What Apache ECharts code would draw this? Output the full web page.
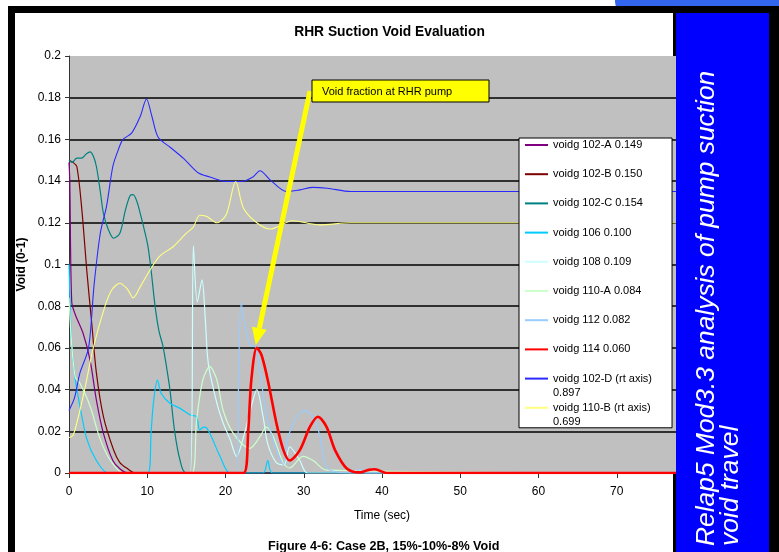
<!DOCTYPE html>
<html>
<head>
<meta charset="utf-8">
<script src="https://cdn.jsdelivr.net/npm/echarts@6/dist/echarts.min.js"></script>
<style>html,body{margin:0;padding:0;background:#fff;}#c{width:779px;height:552px;}</style>
</head>
<body>
<div id="c"></div>
<script>
// ---- data (time in s, void fraction) ----
const T_102A = [0, 0.1, 0.35, 0.8, 1.8, 2.7, 3.5, 4.4, 5.6, 6.5, 7.5, 80];
const V_102A = [0.149, 0.14, 0.082, 0.076, 0.067, 0.054, 0.035, 0.019, 0.006, 0.002, 0, 0];

const T_102B = [0, 0.5, 1.0, 1.6, 2.3, 2.9, 3.5, 4.4, 5.7, 6.5, 7.5, 8.5, 80];
const V_102B = [0.150, 0.149, 0.147, 0.128, 0.096, 0.072, 0.048, 0.027, 0.011, 0.005, 0.002, 0, 0];

const T_102C = [0, 0.4, 1, 1.6, 2.2, 2.7, 3.1, 3.5, 4, 4.4, 5, 5.7, 6.5, 7.2, 7.8, 8.2, 8.7, 9.1, 9.6, 10.1, 10.5, 11, 11.5, 12, 12.5, 12.9, 13.5, 14.2, 15, 80];
const V_102C = [0.150, 0.149, 0.151, 0.151, 0.153, 0.154, 0.152, 0.147, 0.135, 0.1245, 0.117, 0.1126, 0.115, 0.126, 0.133, 0.1335, 0.13, 0.1245, 0.117, 0.1085, 0.097, 0.08, 0.068, 0.061, 0.05, 0.04, 0.02, 0.006, 0, 0];

const T_106 = [0, 0.1, 0.3, 0.8, 1.4, 2.3, 3.5, 5, 10.1, 10.5, 10.8, 11.3, 11.8, 12.9, 14.2, 15.5, 16.3, 16.7, 17.2, 17.6, 18.2, 19.3, 20.6, 24.8, 25.4, 26, 80];
const V_106 = [0.100, 0.086, 0.064, 0.045, 0.032, 0.016, 0.006, 0, 0, 0.02, 0.034, 0.0446, 0.038, 0.0335, 0.031, 0.0278, 0.027, 0.0206, 0.022, 0.0215, 0.0174, 0.008, 0, 0, 0.006, 0, 0];

const T_108 = [0, 15.5, 15.9, 16.4, 17, 17.4, 17.8, 18.9, 19.7, 20.6, 21.4, 22.5, 23.3, 24, 24.8, 25.4, 26.5, 27.5, 28.2, 29.5, 30.5, 80];
const V_108 = [0, 0, 0.109, 0.082, 0.0926, 0.075, 0.0526, 0.0335, 0.024, 0.016, 0.008, 0.02, 0.032, 0.04, 0.027, 0.014, 0.005, 0.004, 0.0126, 0.006, 0, 0];

const T_110A = [0, 0.3, 0.8, 1.4, 2.7, 4, 5.3, 7, 15.7, 16.3, 17.1, 18, 18.9, 19.7, 21, 23.1, 24.4, 25.2, 26.1, 27.4, 28.2, 29.9, 31.2, 32.9, 80];
const V_110A = [0.084, 0.064, 0.046, 0.043, 0.032, 0.016, 0.006, 0, 0, 0.025, 0.0446, 0.051, 0.0446, 0.030, 0.019, 0.0118, 0.0174, 0.022, 0.0174, 0.0047, 0.0024, 0.008, 0.006, 0.0014, 0];

const T_112 = [0, 21.4, 21.7, 22, 22.5, 23.1, 23.8, 24.4, 25.2, 26.5, 27.4, 28, 29.1, 30.1, 31.2, 32.1, 33.1, 36.5, 37.2, 38, 80];
const V_112 = [0, 0, 0.0526, 0.082, 0.07, 0.0614, 0.0606, 0.049, 0.0286, 0.011, 0.004, 0.0174, 0.027, 0.030, 0.027, 0.0174, 0.002, 0, 0.002, 0, 0];

const T_114 = [0, 22.3, 22.9, 23.3, 24, 24.6, 25.4, 26.5, 27.4, 28.2, 29.5, 30.8, 31.8, 32.9, 34, 35.5, 37.2, 38.3, 39.1, 40.6, 80];
const V_114 = [0, 0, 0.02, 0.0446, 0.060, 0.0566, 0.0446, 0.024, 0.011, 0.006, 0.011, 0.0222, 0.027, 0.0222, 0.011, 0.0022, 0.0003, 0.0015, 0.0018, 0, 0];

// right-axis series (0-1 scale)
const T_102D = [0, 0.7, 1.4, 2.5, 3.2, 4, 4.8, 5.6, 6.3, 6.9, 8, 9.1, 9.9, 10.6, 11.4, 13, 14.6, 16.5, 18, 20.1, 22, 23.5, 24.4, 25.7, 27.8, 29.5, 31.2, 33, 36, 80];
const V_102D = [0.15, 0.18, 0.24, 0.30, 0.45, 0.575, 0.64, 0.735, 0.775, 0.80, 0.815, 0.855, 0.897, 0.855, 0.805, 0.78, 0.755, 0.72, 0.71, 0.699, 0.699, 0.71, 0.725, 0.703, 0.675, 0.679, 0.685, 0.683, 0.675, 0.675];

const T_110B = [0, 0.5, 1, 2, 3.1, 4.6, 5.5, 6.5, 7.5, 8.2, 9.2, 10.3, 11.6, 13.3, 15, 15.9, 16.7, 17.6, 18.9, 20.1, 21.3, 22.3, 24, 25.7, 28.6, 32, 36, 80];
const V_110B = [0.085, 0.09, 0.12, 0.2, 0.3, 0.4, 0.44, 0.455, 0.44, 0.42, 0.45, 0.485, 0.52, 0.5425, 0.575, 0.59, 0.618, 0.615, 0.6, 0.62, 0.699, 0.635, 0.6, 0.585, 0.605, 0.595, 0.6, 0.6];

const NAMES = ['voidg 102-A 0.149', 'voidg 102-B 0.150', 'voidg 102-C 0.154', 'voidg 106 0.100',
  'voidg 108 0.109', 'voidg 110-A 0.084', 'voidg 112 0.082', 'voidg 114 0.060',
  'voidg 102-D (rt axis)\n0.897', 'voidg 110-B (rt axis)\n0.699'];
const X_TICKS = [0, 10, 20, 30, 40, 50, 60, 70, 80];
const Y_TICKS = [0, 0.02, 0.04, 0.06, 0.08, 0.1, 0.12, 0.14, 0.16, 0.18, 0.2];

const FONT = 'Liberation Sans, Arial, sans-serif';
function zip(t, v) { return t.map((x, i) => [x, v[i]]); }

const specs = [
  [T_102A, V_102A, '#800080', 1.2, 0],
  [T_102B, V_102B, '#800000', 1.2, 0],
  [T_102C, V_102C, '#008080', 1.2, 0],
  [T_106, V_106, '#00ccff', 1.2, 0],
  [T_108, V_108, '#ccffff', 1.2, 0],
  [T_110A, V_110A, '#ccffcc', 1.2, 0],
  [T_112, V_112, '#99ccff', 1.2, 0],
  [T_114, V_114, '#ff0000', 2.6, 0],
  [T_102D, V_102D, '#2a2aff', 1.1, 1],
  [T_110B, V_110B, '#ffff80', 1.1, 1]
];

const series = specs.map((s, i) => ({
  name: NAMES[i], type: 'line', yAxisIndex: s[4], data: zip(s[0], s[1]),
  symbol: 'none', smooth: 0.3, color: s[2], lineStyle: { width: s[3], color: s[2] },
  z: i === 7 ? 4 : 3, animation: false
}));

const chart = echarts.init(document.getElementById('c'), null, { renderer: 'canvas' });

const LEG_LEFT = 519, LEG_TOP = 138, LEG_GAP = 18.2, LEG_PADTOP = 1.5, LEG_ROW = 11 + 18.2;
// second lines of the two-line legend labels
const legendExtra = [];
NAMES.forEach((n, i) => {
  const parts = n.split('\n');
  if (parts.length > 1) {
    legendExtra.push({ type: 'text', id: 'legx' + i, z: 10,
      x: LEG_LEFT + 6 + 23 + 5, y: LEG_TOP + LEG_PADTOP + 5.5 + i * LEG_ROW + 14,
      style: { text: parts[1], fill: '#000', font: '11px ' + FONT, verticalAlign: 'middle' } });
  }
});

const option = {
  animation: false,
  title: [
    { text: 'RHR Suction Void Evaluation', left: 'center', top: 20,
      textStyle: { fontFamily: FONT, fontSize: 13.8, fontWeight: 'bold', color: '#000' } },
    { text: 'Figure 4-6: Case 2B, 15%-10%-8% Void', left: 263, top: 535,
      textStyle: { fontFamily: FONT, fontSize: 12.6, fontWeight: 'bold', color: '#000' } }
  ],
  grid: { left: 69, top: 56, width: 626, height: 417, show: true, backgroundColor: '#c0c0c0', borderWidth: 0, containLabel: false },
  xAxis: {
    type: 'value', min: X_TICKS[0], max: X_TICKS[X_TICKS.length - 1], interval: 10,
    name: 'Time (sec)', nameLocation: 'middle', nameGap: 37,
    nameTextStyle: { fontFamily: FONT, fontSize: 12, color: '#000' },
    axisLine: { lineStyle: { color: '#333', width: 1 } },
    axisTick: { show: true, length: 5, lineStyle: { color: '#333' } },
    axisLabel: { fontFamily: FONT, fontSize: 12, color: '#000', margin: 13 },
    splitLine: { show: false }
  },
  yAxis: [{
    type: 'value', min: Y_TICKS[0], max: Y_TICKS[Y_TICKS.length - 1], interval: 0.02,
    name: 'Void (0-1)', nameLocation: 'middle', nameGap: 41, nameMoveOverlap: false,
    nameTextStyle: { fontFamily: FONT, fontSize: 12, fontWeight: 'bold', color: '#000' },
    axisLine: { show: true, lineStyle: { color: '#333', width: 1 } },
    axisTick: { show: true, length: 4, lineStyle: { color: '#333' } },
    axisLabel: { fontFamily: FONT, fontSize: 12, color: '#000', margin: 8 },
    splitLine: { show: true, showMaxLine: false, lineStyle: { color: '#000', width: 1.5 } }
  }, {
    type: 'value', min: 0, max: 1, show: false, splitLine: { show: false }
  }],
  legend: {
    orient: 'vertical', left: LEG_LEFT, top: LEG_TOP,
    padding: [LEG_PADTOP, 20, 14.5, 6], itemGap: LEG_GAP, itemWidth: 23, itemHeight: 2,
    icon: 'rect', selectedMode: false,
    backgroundColor: '#fff', borderColor: '#000', borderWidth: 1, z: 4,
    textStyle: { fontFamily: FONT, fontSize: 11, color: '#000' },
    formatter: (name) => name.split('\n')[0],
    data: NAMES
  },
  graphic: [
    { type: 'rect', id: 'deco', z: -30, shape: { x: 615, y: 0, width: 164, height: 12, r: [0, 0, 0, 10] }, style: { fill: '#3366ee' } },
    { type: 'rect', id: 'frame', z: -20, shape: { x: 8, y: 6, width: 771, height: 546 }, style: { fill: '#000' } },
    { type: 'rect', id: 'paper', z: -19, shape: { x: 15, y: 13, width: 658, height: 539 }, style: { fill: '#fff' } },
    { type: 'rect', id: 'panel', z: 100, shape: { x: 676, y: 13, width: 93, height: 539 }, style: { fill: '#0000ff' } },
    { type: 'text', id: 'panelText', z: 101, x: 695, y: 546, rotation: Math.PI / 2,
      style: { text: 'Relap5 Mod3.3 analysis of pump suction\nvoid travel', fill: '#fff',
        font: 'italic 26.4px ' + FONT, lineHeight: 24, align: 'left', verticalAlign: 'top' } }
  ].concat(legendExtra),
  series: series
};
chart.setOption(option);

// annotation arrow pointing at the pump (voidg 114) peak
const peakIdx = V_114.indexOf(Math.max.apply(null, V_114));
const tip = chart.convertToPixel({ xAxisIndex: 0, yAxisIndex: 0 }, [T_114[peakIdx], V_114[peakIdx]]);
const tipX = tip[0] - 1, tipY = tip[1] - 3;
const sx = 310, sy = 91;
const dx = tipX - sx, dy = tipY - sy, L = Math.hypot(dx, dy);
const ux = dx / L, uy = dy / L, px = -uy, py = ux;
const headL = 17, headW = 7.5;
const bx = tipX - ux * headL, by = tipY - uy * headL;
chart.setOption({
  graphic: [
    { type: 'line', id: 'arrowLine', z: 50, shape: { x1: sx, y1: sy, x2: bx, y2: by }, style: { stroke: '#ffff00', lineWidth: 5 } },
    { type: 'polygon', id: 'arrowHead', z: 50, shape: { points: [[tipX, tipY], [bx + px * headW, by + py * headW], [bx - px * headW, by - py * headW]] }, style: { fill: '#ffff00' } },
    { type: 'rect', id: 'noteBox', z: 51, shape: { x: 312, y: 80, width: 177, height: 22 }, style: { fill: '#ffff00', stroke: '#000', lineWidth: 1 } },
    { type: 'text', id: 'noteText', z: 52, x: 322, y: 92, style: { text: 'Void fraction at RHR pump', fill: '#000', font: '11px ' + FONT, verticalAlign: 'middle' } }
  ]
});
</script>
</body>
</html>
